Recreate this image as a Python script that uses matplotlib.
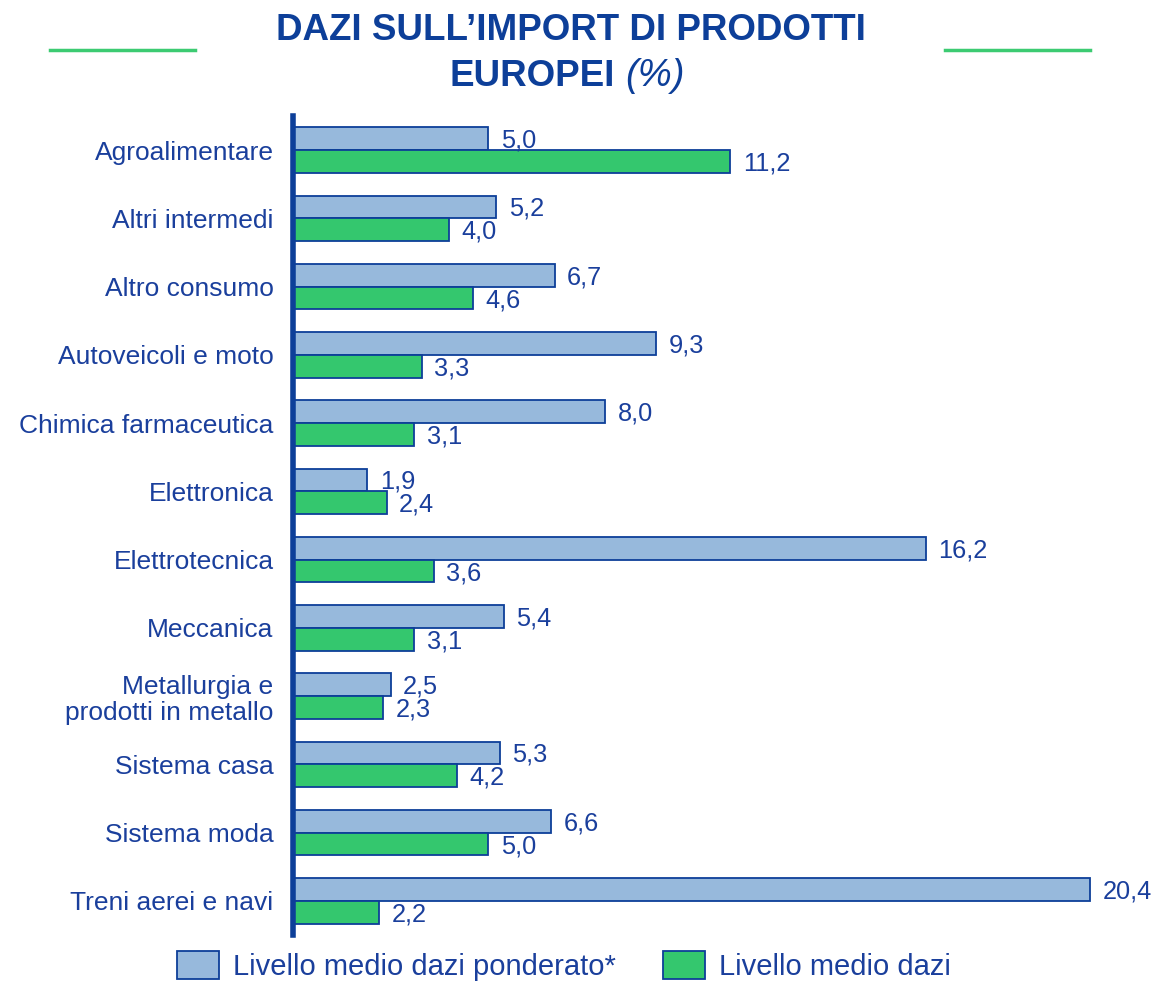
import matplotlib.pyplot as plt
import numpy as np
from matplotlib.lines import Line2D

plt.rcParams['font.family'] = ['Liberation Sans', 'DejaVu Sans']

# Data
categories = ['Agroalimentare', 'Altri intermedi', 'Altro consumo', 'Autoveicoli e moto',
              'Chimica farmaceutica', 'Elettronica', 'Elettrotecnica', 'Meccanica',
              'Metallurgia e\nprodotti in metallo', 'Sistema casa', 'Sistema moda',
              'Treni aerei e navi']
dazi_ponderato = [5.0, 5.2, 6.7, 9.3, 8.0, 1.9, 16.2, 5.4, 2.5, 5.3, 6.6, 20.4]
dazi_medio = [11.2, 4.0, 4.6, 3.3, 3.1, 2.4, 3.6, 3.1, 2.3, 4.2, 5.0, 2.2]
series_labels = ['Livello medio dazi ponderato*', 'Livello medio dazi']

# Colors
dark_blue = '#0D3F99'
text_blue = '#1A3F9C'
light_blue = '#97B9DC'
green = '#34C76E'

W, H = 1158, 983
fig = plt.figure(figsize=(W / 100, H / 100), dpi=100)
ax = fig.add_axes([293 / W, 1 - 935 / H, (1100 - 293) / W, (935 - 116) / H])

y = np.arange(len(categories))
h = 0.335
ax.barh(y - h / 2, dazi_ponderato, height=h, color=light_blue, edgecolor=dark_blue,
        linewidth=1.3, label=series_labels[0])
ax.barh(y + h / 2, dazi_medio, height=h, color=green, edgecolor=dark_blue,
        linewidth=1.3, label=series_labels[1])

# value labels (italian decimal comma)
for i in range(len(categories)):
    ax.text(dazi_ponderato[i] + 0.32, y[i] - h / 2 + 0.03, f'{dazi_ponderato[i]:.1f}'.replace('.', ','),
            va='center', ha='left', fontsize=18.3, color=text_blue)
    ax.text(dazi_medio[i] + 0.32, y[i] + h / 2 + 0.03, f'{dazi_medio[i]:.1f}'.replace('.', ','),
            va='center', ha='left', fontsize=18.3, color=text_blue)

ax.set_xlim(0, 20.66)
ax.set_ylim(len(categories) - 0.5, -0.5)
ax.set_yticks(y)
ax.set_yticklabels(categories, fontsize=19, color=text_blue, linespacing=1.1)
ax.tick_params(axis='y', length=0, pad=14)
ax.set_xticks([])
for s in ['top', 'right', 'bottom']:
    ax.spines[s].set_visible(False)
ax.spines['left'].set_color(dark_blue)
ax.spines['left'].set_linewidth(4)

# Title
fig.text(571 / W, 1 - 30 / H, 'DAZI SULL\u2019IMPORT DI PRODOTTI', ha='center', va='center',
         fontsize=26.5, fontweight='bold', color=dark_blue)
fig.text(615 / W, 1 - 76 / H, 'EUROPEI', ha='right', va='center',
         fontsize=26.5, fontweight='bold', color=dark_blue)
fig.text(625 / W, 1 - 76 / H, '(%)', ha='left', va='center',
         fontsize=27.5, style='italic', color=dark_blue)

# decorative green lines
for x0, x1 in [(50, 195), (945, 1090)]:
    fig.add_artist(Line2D([x0 / W, x1 / W], [1 - 50 / H, 1 - 50 / H],
                          color='#3CCB72', linewidth=2.5))

fig.legend(loc='center', bbox_to_anchor=(564 / W, 1 - 966 / H), ncol=2, frameon=False,
           fontsize=21, handlelength=1.45, handleheight=1.1, handletextpad=0.48,
           columnspacing=1.6, labelcolor=text_blue, borderpad=0)

plt.savefig('out.png', dpi=100)
